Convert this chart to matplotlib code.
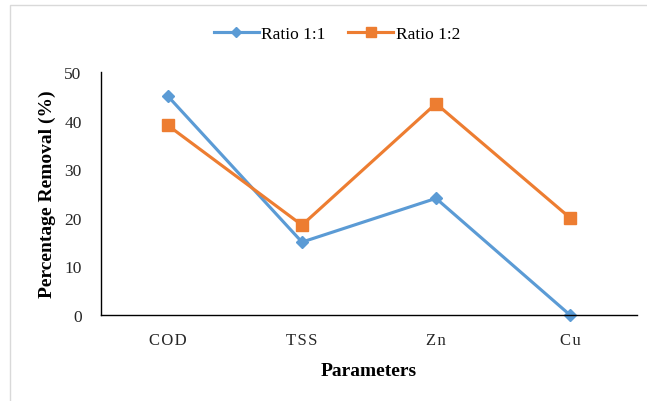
import matplotlib
matplotlib.use("Agg")
import matplotlib.pyplot as plt
from matplotlib.patches import Rectangle

categories = ["COD", "TSS", "Zn", "Cu"]
ratio_11 = [45, 15, 24, 0]
ratio_12 = [39, 18.5, 43.5, 20]
yticks = [0, 10, 20, 30, 40, 50]

blue = "#5B9BD5"
orange = "#ED7D31"
serif = ["Liberation Serif", "DejaVu Serif"]

fig = plt.figure(figsize=(6.47, 4.02), dpi=100)
fig.patch.set_facecolor("white")
# light outer border
fig.add_artist(Rectangle((10/647, -0.05), 1.1, 1 - 6/402 + 0.05, transform=fig.transFigure,
                         fill=False, edgecolor="#D9D9D9", linewidth=1.0))

ax = fig.add_axes([101/647, 1 - 316/402, (637 - 101)/647, (316 - 73)/402])
x = list(range(len(categories)))
ax.plot(x, ratio_11, color=blue, linewidth=2.25, marker="D", markersize=6.5, label="Ratio 1:1")
ax.plot(x, ratio_12, color=orange, linewidth=2.25, marker="s", markersize=8, label="Ratio 1:2")

ax.set_xlim(-0.5, len(categories) - 0.5)
ax.set_ylim(0, 50)
ax.set_yticks(yticks)
ax.set_xticks(x)
ax.set_xticklabels(["\u200a".join(c) for c in categories], fontsize=12, family=serif, color="#262626")
for lab in ax.get_yticklabels():
    lab.set_fontsize(12.5)
    lab.set_family(serif)
    lab.set_color("#262626")
ax.tick_params(axis="both", length=0)
ax.tick_params(axis="x", pad=12)
ax.tick_params(axis="y", pad=14)
for s in ["top", "right"]:
    ax.spines[s].set_visible(False)
for s in ["left", "bottom"]:
    ax.spines[s].set_color("black")
    ax.spines[s].set_linewidth(1.0)
for line in ax.get_lines():
    line.set_clip_on(False)

ax.set_ylabel("Percentage Removal (%)", fontsize=14, fontweight="bold", family=serif)
ax.yaxis.set_label_coords(-0.084, 0.5)
ax.set_xlabel("Parameters", fontsize=14, fontweight="bold", family=serif, labelpad=10)

fig.legend(loc="center", bbox_to_anchor=(337/647, 1 - 35/402), ncol=2, frameon=False,
           prop={"family": "Liberation Serif", "size": 12.5}, handlelength=2.6,
           columnspacing=1.3, handletextpad=0.15, markerscale=0.85)

fig.savefig("out.png", dpi=100)
